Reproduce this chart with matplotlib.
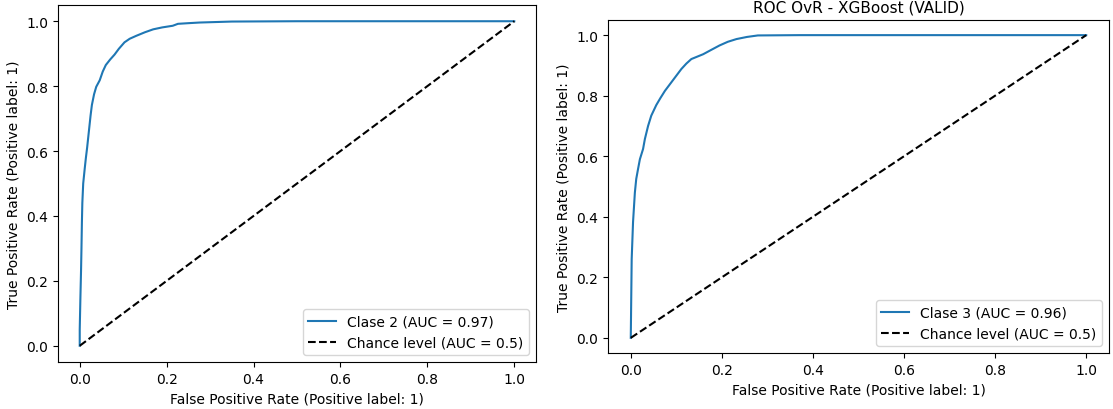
import matplotlib
matplotlib.use("Agg")
import matplotlib.pyplot as plt

# Clase 2 ROC curve (left panel)
fpr_c2 = [0, 0, 0.0015, 0.003, 0.004, 0.005, 0.006, 0.008, 0.0115, 0.014, 0.017, 0.021, 0.025,
          0.028, 0.033, 0.038, 0.046, 0.053, 0.06, 0.07, 0.08, 0.09, 0.103, 0.115, 0.13, 0.15,
          0.169, 0.19, 0.214, 0.226, 0.25, 0.276, 0.35, 0.5, 1.0]
tpr_c2 = [0, 0.05, 0.145, 0.23, 0.30, 0.38, 0.44, 0.50, 0.546, 0.577, 0.61, 0.66, 0.71,
          0.742, 0.775, 0.798, 0.818, 0.845, 0.865, 0.882, 0.897, 0.915, 0.935, 0.946, 0.955, 0.966,
          0.975, 0.981, 0.986, 0.992, 0.994, 0.996, 0.999, 1.0, 1.0]

# Clase 3 ROC curve (right panel)
fpr_c3 = [0, 0.001, 0.002, 0.005, 0.009, 0.012, 0.016, 0.02, 0.027, 0.031, 0.038, 0.045, 0.056,
          0.065, 0.075, 0.089, 0.1, 0.111, 0.122, 0.133, 0.159, 0.18, 0.195, 0.213, 0.232, 0.255,
          0.279, 0.37, 1.0]
tpr_c3 = [0, 0.13, 0.26, 0.383, 0.48, 0.525, 0.558, 0.59, 0.624, 0.657, 0.70, 0.734, 0.769,
          0.792, 0.816, 0.844, 0.866, 0.888, 0.906, 0.921, 0.937, 0.954, 0.966, 0.978, 0.987, 0.994,
          0.999, 1.0, 1.0]

chance = [0, 1]

labels_c2 = "Clase 2 (AUC = 0.97)"
labels_c3 = "Clase 3 (AUC = 0.96)"
label_chance = "Chance level (AUC = 0.5)"
xlabel = "False Positive Rate (Positive label: 1)"
ylabel = "True Positive Rate (Positive label: 1)"
title_right = "ROC OvR - XGBoost (VALID)"

W, H = 1113, 410
fig = plt.figure(figsize=(W / 100, H / 100), dpi=100)

def rect(l, t, r, b):
    return [l / W, (H - b) / H, (r - l) / W, (b - t) / H]

ax1 = fig.add_axes(rect(58, 6, 536, 363))
ax2 = fig.add_axes(rect(608, 21, 1109, 354))

for ax, fpr, tpr, lab in [(ax1, fpr_c2, tpr_c2, labels_c2), (ax2, fpr_c3, tpr_c3, labels_c3)]:
    ax.plot(fpr, tpr, color="#1f77b4", lw=1.5, label=lab)
    ax.plot(chance, chance, "k--", lw=1.5, label=label_chance)
    ax.set_xlim(-0.05, 1.05)
    ax.set_ylim(-0.05, 1.05)
    ax.set_xticks([0, 0.2, 0.4, 0.6, 0.8, 1.0])
    ax.set_yticks([0, 0.2, 0.4, 0.6, 0.8, 1.0])
    ax.set_xlabel(xlabel, fontsize=10)
    ax.set_ylabel(ylabel, fontsize=10)
    ax.tick_params(labelsize=10)
    ax.legend(loc="lower right", fontsize=10)

ax2.set_title(title_right, fontsize=11)

fig.savefig("out.png", dpi=100)
